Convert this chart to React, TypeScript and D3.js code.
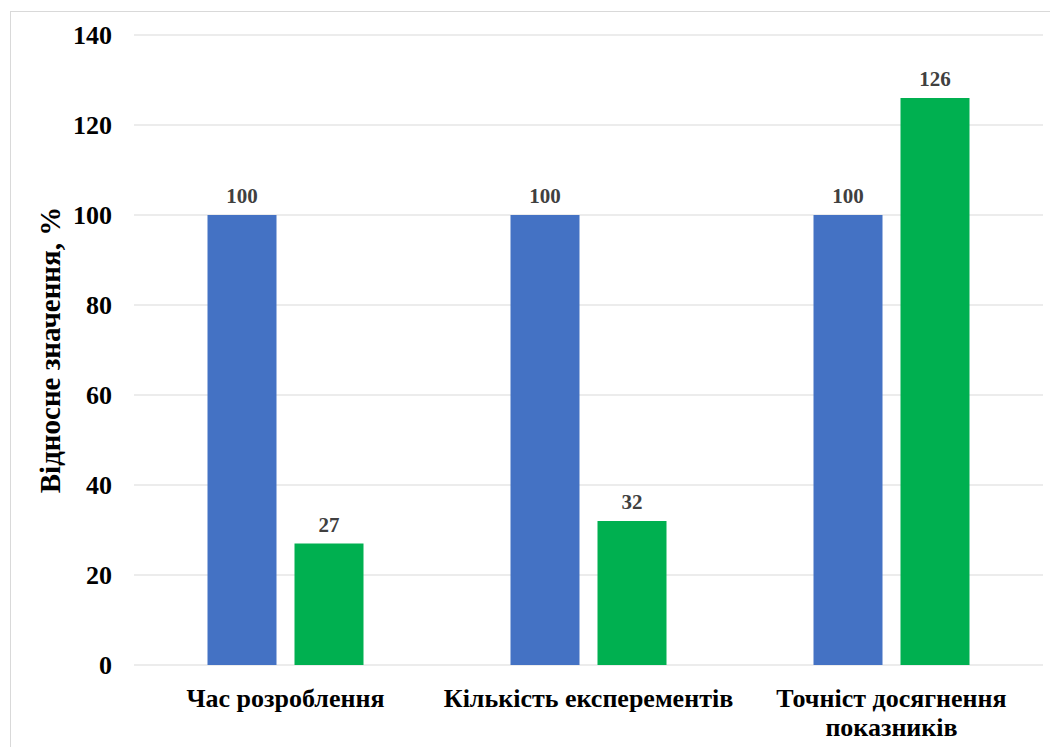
import React from "react";
import * as d3 from "d3";

const categories: string[][] = [
  ["Час розроблення"],
  ["Кількість експерементів"],
  ["Точніст досягнення", "показників"],
];
const seriesBase = [100, 100, 100];
const seriesNew = [27, 32, 126];
const yTicks = [0, 20, 40, 60, 80, 100, 120, 140];

const W = 1050;
const H = 747;
const plot = { left: 134, right: 1043, top: 35, bottom: 665 };
const colors = ["#4472C4", "#00B050"];
const font = "'Liberation Serif', 'Times New Roman', serif";

export default function App() {
  const x = d3
    .scaleBand<number>()
    .domain(d3.range(categories.length))
    .range([plot.left, plot.right]);
  const y = d3.scaleLinear().domain([0, 140]).range([plot.bottom, plot.top]);

  const barW = 69;
  const gap = 18;
  const series = [seriesBase, seriesNew];

  return (
    <svg
      width={W}
      height={H}
      style={{ position: "absolute", left: 0, top: 0, background: "#fff" }}
      fontFamily={font}
    >
      <rect x={10.5} y={11.5} width={1100} height={800} fill="#fff" stroke="#d9d9d9" strokeWidth={1} />
      {yTicks.map((t) => (
        <g key={t}>
          <line x1={plot.left} x2={plot.right} y1={y(t)} y2={y(t)} stroke="#d9d9d9" strokeWidth={1.2} />
          <text x={112} y={y(t) + 9} textAnchor="end" fontSize={26} fontWeight="bold" fill="#000">
            {t}
          </text>
        </g>
      ))}
      {categories.map((c, i) => {
        const cx = (x(i) as number) + x.bandwidth() / 2;
        return (
          <g key={i}>
            {series.map((s, j) => {
              const bx = cx - gap / 2 - barW + j * (barW + gap);
              return (
                <g key={j}>
                  <rect x={bx} y={y(s[i])} width={barW} height={y(0) - y(s[i])} fill={colors[j]} />
                  <text
                    x={bx + barW / 2}
                    y={y(s[i]) - 12}
                    textAnchor="middle"
                    fontSize={21}
                    fontWeight="bold"
                    fill="#404040"
                  >
                    {s[i]}
                  </text>
                </g>
              );
            })}
            {c.map((line, k) => (
              <text
                key={k}
                x={cx}
                y={707 + k * 29}
                textAnchor="middle"
                fontSize={26}
                fontWeight="bold"
                fill="#000"
              >
                {line}
              </text>
            ))}
          </g>
        );
      })}
      <text
        transform={`translate(60, ${(plot.top + plot.bottom) / 2}) rotate(-90)`}
        textAnchor="middle"
        fontSize={29}
        fontWeight="bold"
        fill="#000"
      >
        Відносне значення, %
      </text>
    </svg>
  );
}
